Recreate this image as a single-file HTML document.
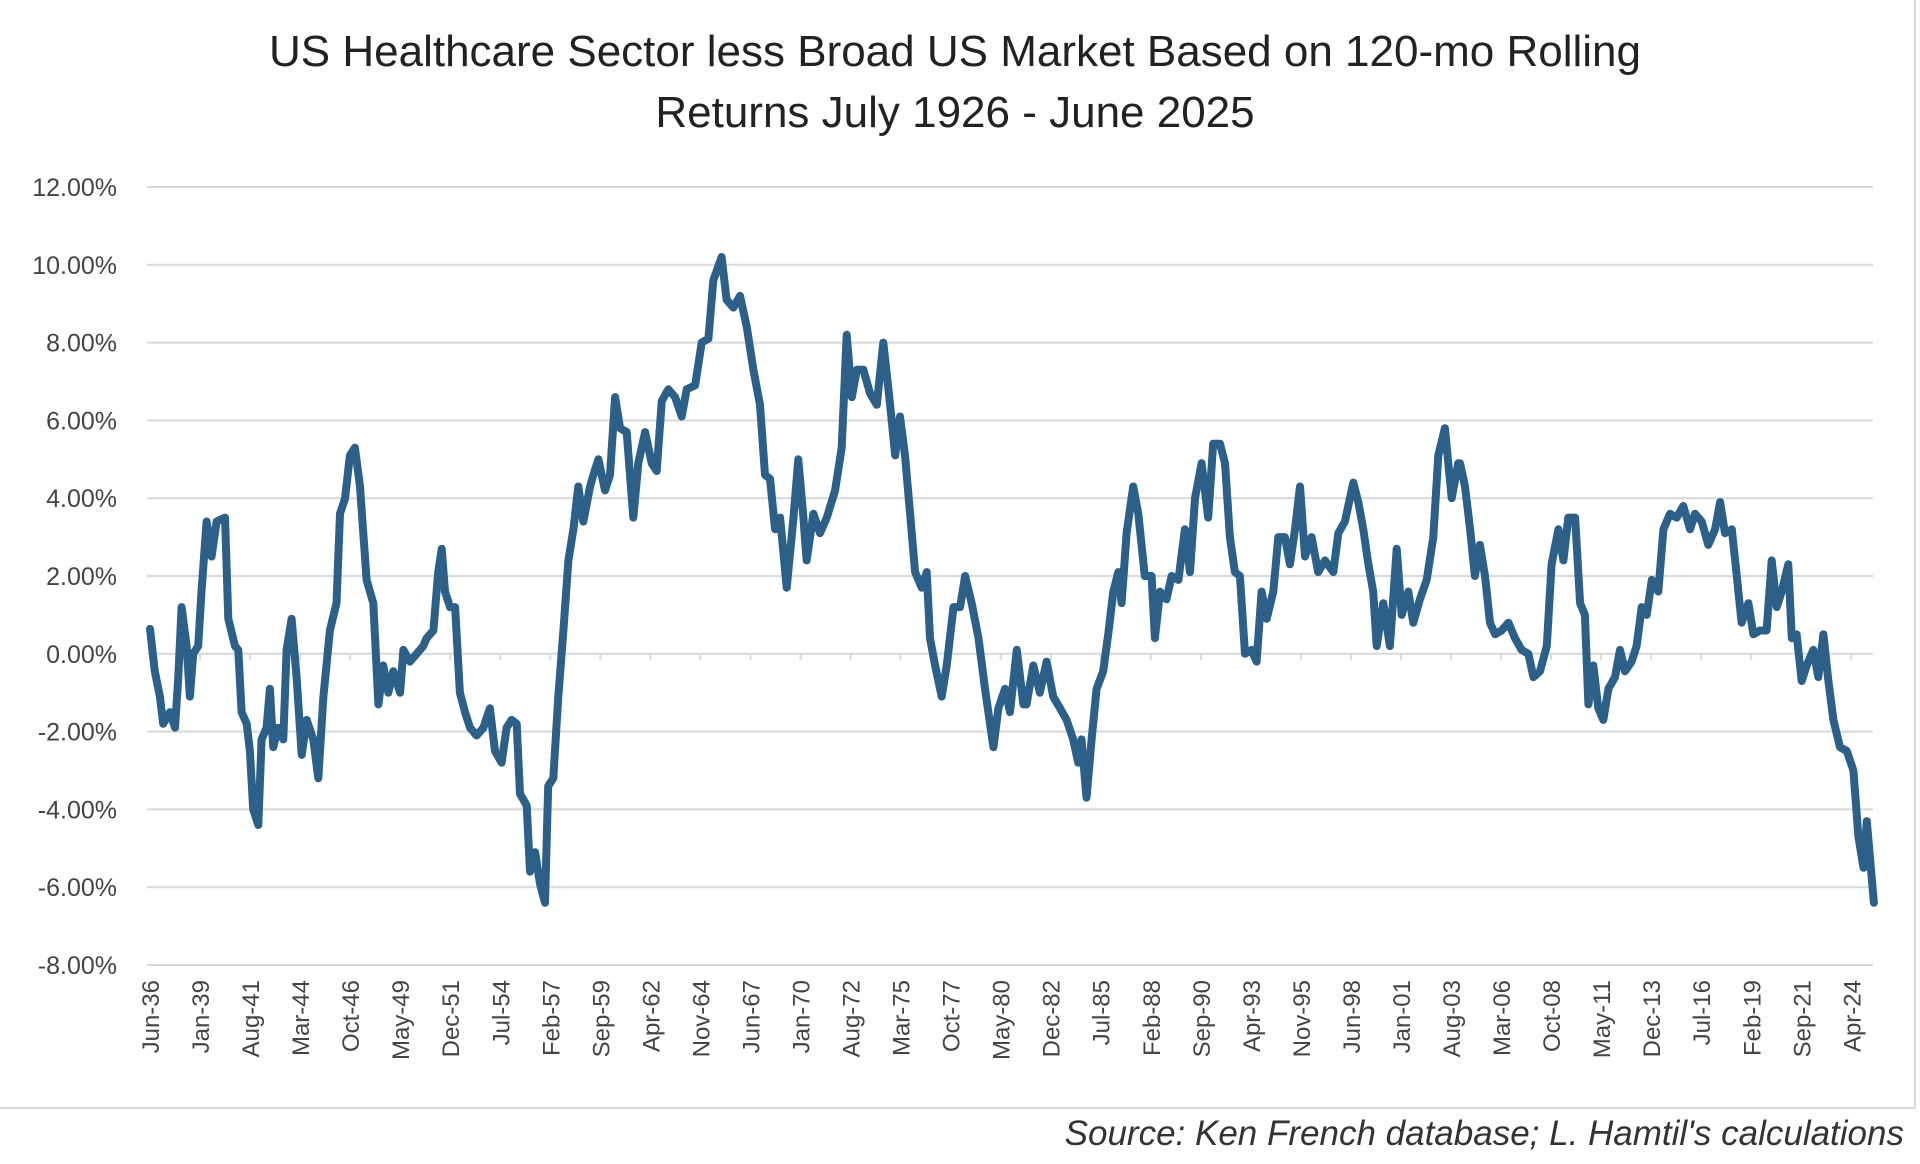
<!DOCTYPE html>
<html><head><meta charset="utf-8"><style>
html,body{margin:0;padding:0;background:#fff;}
svg{display:block;}
text{font-family:"Liberation Sans",sans-serif;}
</style></head><body>
<svg id="chart" width="1920" height="1164" viewBox="0 0 1920 1164">
<rect x="-2" y="-2" width="1917" height="1110" fill="#fff" stroke="#d9d9d9" stroke-width="2"/>
<text x="955" y="66" text-anchor="middle" font-size="44" fill="#222">US Healthcare Sector less Broad US Market Based on 120-mo Rolling</text>
<text x="955" y="127" text-anchor="middle" font-size="44" fill="#222">Returns July 1926 - June 2025</text>
<g id="grid"></g><g id="yt"></g><g id="xt"></g><g id="series"></g>
<text x="1904" y="1145" text-anchor="end" font-size="35" font-style="italic" fill="#333">Source:  Ken French database; L. Hamtil's calculations</text>
</svg>
<script>
const yTicks = [12,10,8,6,4,2,0,-2,-4,-6,-8];
const xLabels = ["Jun-36","Jan-39","Aug-41","Mar-44","Oct-46","May-49","Dec-51","Jul-54","Feb-57","Sep-59","Apr-62","Nov-64","Jun-67","Jan-70","Aug-72","Mar-75","Oct-77","May-80","Dec-82","Jul-85","Feb-88","Sep-90","Apr-93","Nov-95","Jun-98","Jan-01","Aug-03","Mar-06","Oct-08","May-11","Dec-13","Jul-16","Feb-19","Sep-21","Apr-24"];
const years = [1936.42,1936.67,1936.93,1937.10,1937.45,1937.71,1937.88,1938.05,1938.31,1938.48,1938.65,1938.91,1939.08,1939.34,1939.60,1939.86,1940.29,1940.46,1940.81,1940.98,1941.15,1941.41,1941.58,1941.75,1942.01,1942.18,1942.44,1942.61,1942.78,1943.04,1943.30,1943.47,1943.73,1943.99,1944.25,1944.51,1944.85,1945.11,1945.37,1945.71,1946.05,1946.23,1946.49,1946.74,1947.00,1947.26,1947.60,1947.95,1948.21,1948.46,1948.72,1948.98,1949.33,1949.50,1949.84,1950.19,1950.53,1950.70,1951.05,1951.30,1951.48,1951.65,1951.91,1952.17,1952.42,1952.68,1952.94,1953.28,1953.63,1953.97,1954.23,1954.57,1954.83,1955.09,1955.35,1955.52,1955.87,1956.04,1956.30,1956.55,1956.81,1956.98,1957.24,1957.50,1957.76,1958.02,1958.28,1958.53,1958.79,1959.14,
1959.31,1959.57,1959.91,1960.17,1960.43,1960.69,1961.03,1961.37,1961.63,1961.98,1962.32,1962.58,1962.84,1963.18,1963.53,1963.87,1964.13,1964.56,1964.90,1965.25,1965.50,1965.93,1966.19,1966.54,1966.88,1967.23,1967.57,1967.91,1968.17,1968.43,1968.69,1968.95,1969.29,1969.64,1969.89,1970.15,1970.32,1970.67,1971.01,1971.36,1971.79,1972.13,1972.39,1972.65,1972.91,1973.25,1973.59,1973.94,1974.28,1974.63,1974.89,1975.14,1975.40,1975.66,1975.92,1976.26,1976.52,1976.69,1976.95,1977.29,1977.55,1977.90,1978.24,1978.50,1978.84,1979.19,1979.53,1979.96,1980.22,1980.56,1980.82,1981.17,1981.51,
1981.67,1982.02,1982.36,1982.71,1983.05,1983.40,1983.74,1984.08,1984.34,1984.51,1984.77,1985.03,1985.29,1985.63,1985.89,1986.15,1986.41,1986.58,1986.84,1987.18,1987.44,1987.78,1988.13,1988.30,1988.56,1988.90,1989.16,1989.51,1989.85,1990.11,1990.37,1990.71,1991.05,1991.31,1991.66,1991.92,1992.17,1992.43,1992.69,1992.95,1993.29,1993.55,1993.81,1994.07,1994.41,1994.67,1995.01,1995.27,1995.53,1995.79,1996.05,1996.39,1996.73,1997.08,1997.51,1997.77,1998.11,1998.54,1998.80,1999.06,1999.32,1999.57,1999.75,2000.09,2000.43,2000.78,2001.04,2001.38,2001.64,2001.98,2002.33,2002.67,2002.93,2003.27,2003.62,2003.96,
2004.05,2004.31,2004.57,2004.82,2005.08,2005.34,2005.60,2005.86,2006.20,2006.55,2006.89,2007.23,2007.58,2007.84,2008.18,2008.53,2008.78,2009.13,2009.39,2009.64,2009.99,2010.25,2010.50,2010.68,2010.93,2011.19,2011.45,2011.71,2012.05,2012.31,2012.57,2012.91,2013.17,2013.43,2013.69,2013.95,2014.29,2014.55,2014.89,2015.24,2015.58,2015.93,2016.18,2016.53,2016.87,2017.22,2017.48,2017.73,2018.08,2018.34,2018.59,2018.94,2019.20,2019.54,2019.88,2020.14,2020.40,2020.66,2021.00,2021.18,2021.43,2021.69,2021.95,2022.29,2022.55,2022.81,2023.07,2023.33,2023.67,2024.02,2024.36,2024.62,2024.88,2025.05,2025.42];
const excessReturn = [0.64,-0.45,-1.1,-1.8,-1.5,-1.9,-0.6,1.2,0.2,-1.1,0,0.2,1.6,3.4,2.5,3.4,3.5,0.9,0.2,0.1,-1.5,-1.8,-2.5,-4.0,-4.4,-2.2,-1.9,-0.9,-2.4,-1.9,-2.2,0.1,0.9,-0.6,-2.6,-1.7,-2.2,-3.2,-1.1,0.6,1.3,3.6,4.0,5.1,5.3,4.3,1.9,1.3,-1.3,-0.3,-1.0,-0.45,-1.0,0.1,-0.2,0,0.2,0.4,0.6,2.1,2.7,1.6,1.2,1.2,-1.0,-1.5,-1.9,-2.1,-1.9,-1.4,-2.5,-2.8,-1.9,-1.7,-1.8,-3.6,-3.9,-5.6,-5.1,-5.9,-6.4,-3.4,-3.2,-1.1,0.6,2.4,3.2,4.3,3.4,4.3,
4.6,5.0,4.2,4.6,6.6,5.8,5.7,3.5,4.9,5.7,4.9,4.7,6.5,6.8,6.6,6.1,6.8,6.9,8.0,8.1,9.6,10.2,9.1,8.9,9.2,8.4,7.3,6.4,4.6,4.5,3.2,3.5,1.7,3.5,5.0,3.5,2.4,3.6,3.1,3.5,4.2,5.3,8.2,6.6,7.3,7.3,6.7,6.4,8.0,6.4,5.1,6.1,5.1,3.6,2.1,1.7,2.1,0.4,-0.3,-1.1,-0.3,1.2,1.2,2.0,1.3,0.4,-0.9,-2.4,-1.4,-0.9,-1.5,0.1,-1.3,
-1.3,-0.3,-1.0,-0.2,-1.1,-1.4,-1.7,-2.2,-2.8,-2.2,-3.7,-2.2,-0.9,-0.45,0.5,1.6,2.1,1.3,3.1,4.3,3.6,2.0,2.0,0.4,1.6,1.4,2.0,1.9,3.2,2.1,4.0,4.9,3.5,5.4,5.4,4.9,3.0,2.1,2.0,0,0.1,-0.2,1.6,0.9,1.6,3.0,3.0,2.3,3.2,4.3,2.5,3.0,2.1,2.4,2.1,3.1,3.4,4.4,3.9,3.2,2.3,1.6,0.2,1.3,0.2,2.7,1.0,1.6,0.8,1.4,1.9,3.0,5.1,5.8,4.0,4.9,
4.9,4.3,3.2,2.0,2.8,2.0,0.8,0.5,0.6,0.8,0.4,0.1,0,-0.6,-0.45,0.2,2.3,3.2,2.4,3.5,3.5,1.3,1.0,-1.3,-0.3,-1.4,-1.7,-0.9,-0.6,0.1,-0.45,-0.2,0.2,1.2,1.0,1.9,1.6,3.2,3.6,3.5,3.8,3.2,3.6,3.4,2.8,3.2,3.9,3.1,3.2,2.0,0.8,1.3,0.5,0.6,0.6,2.4,1.2,1.6,2.3,0.4,0.5,-0.7,-0.3,0.1,-0.6,0.5,-0.7,-1.7,-2.4,-2.5,-3.0,-4.7,-5.5,-4.3,-6.4];

const NS="http://www.w3.org/2000/svg";
const X0=150, Y0YEAR=1936.42, PX_PER_YEAR=19.37, PLOT_L=147, PLOT_R=1873;
function xScale(yr){return X0+(yr-Y0YEAR)*PX_PER_YEAR;}
function yScale(v){return 187+(12-v)*38.9;}
function mk(tag,attrs,parent){const e=document.createElementNS(NS,tag);for(const k in attrs)e.setAttribute(k,attrs[k]);parent.appendChild(e);return e;}

const grid=document.getElementById('grid'), yt=document.getElementById('yt'), xt=document.getElementById('xt'), ser=document.getElementById('series');
yTicks.forEach(v=>{
  const y=yScale(v);
  const l=mk('line',{x1:PLOT_L,x2:PLOT_R,y1:y,y2:y,stroke:'#d9d9d9','stroke-width':2},grid);
  
  
  const t=mk('text',{x:117,y:y+9,'text-anchor':'end','font-size':25,fill:'#444'},yt);
  t.textContent=v.toFixed(2)+'%';
  
  
});
xLabels.forEach((lab,k)=>{
  const x=xScale(Y0YEAR+31*k/12);
  const tk=mk('line',{x1:x,x2:x,y1:yScale(0),y2:yScale(0)+6,stroke:'#d9d9d9','stroke-width':2},grid);
  
  
  const t=mk('text',{x:0,y:0,'text-anchor':'end','font-size':24,fill:'#444',transform:`translate(${x+9},980) rotate(-90)`},xt);
  t.textContent=lab;
  
  
});
let d='';
years.forEach((yr,i)=>{d+=(i?'L':'M')+xScale(yr).toFixed(1)+','+yScale(excessReturn[i]).toFixed(1);});
const p=mk('path',{d:d,fill:'none',stroke:'#2c6089','stroke-width':8,'stroke-linejoin':'round','stroke-linecap':'round'},ser);


</script>
</body></html>
